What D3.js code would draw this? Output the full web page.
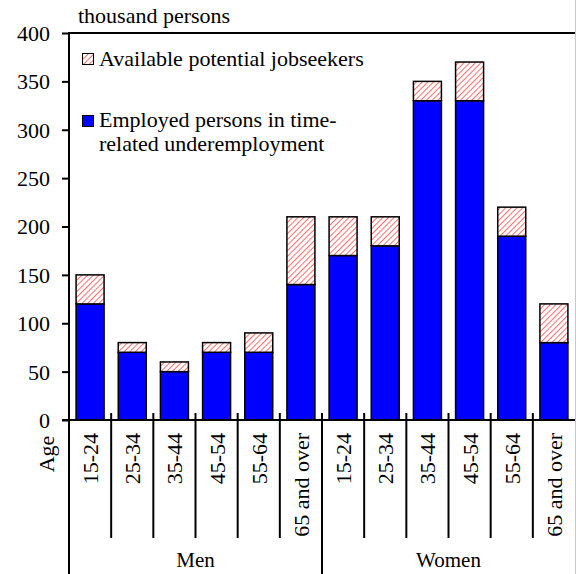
<!DOCTYPE html>
<html><head><meta charset="utf-8">
<script src="https://cdn.jsdelivr.net/npm/d3@7"></script>
<style>body{margin:0;background:#fff}svg{display:block}text{font-family:"Liberation Serif","Times New Roman",serif;fill:#000}</style>
</head><body><svg id="c" width="576" height="574"></svg>
<script>
const groups = ["Men", "Women"];
const ages = ["15-24","25-34","35-44","45-54","55-64","65 and over"];
const employed = [120, 70, 50, 70, 70, 140, 170, 180, 330, 330, 190, 80];
const available = [30, 10, 10, 10, 20, 70, 40, 30, 20, 40, 30, 40];
const yTicks = [0,50,100,150,200,250,300,350,400];
const seriesNames = ["Available potential jobseekers", "Employed persons in time-|related underemployment"];
const unitLabel = "thousand persons";
const axisTitle = "Age";

const cats = [];
groups.forEach(g => ages.forEach(a => cats.push({g, a, key: g + "|" + a})));
const data = cats.map((c, i) => ({...c, emp: employed[i], av: available[i]}));

const svg = d3.select("#c");
const L = 69, R = 575, T = 33, B = 420;
const FS = 22;
const y = d3.scaleLinear().domain([0, 400]).range([B, T]);
const x = d3.scaleBand().domain(cats.map(c => c.key)).range([L, R]).paddingInner(0.336).paddingOuter(0.168);
const step = x.step();

const defs = svg.append("defs");
const pat = defs.append("pattern").attr("id", "hatch").attr("patternUnits", "userSpaceOnUse")
  .attr("width", 4).attr("height", 4).attr("patternTransform", "rotate(45)");
pat.append("rect").attr("width", 4).attr("height", 4).attr("fill", "#fff");
pat.append("line").attr("x1", 0).attr("y1", 0).attr("x2", 0).attr("y2", 4)
  .attr("stroke", "#ff6060").attr("stroke-width", 1.8);

// right border
svg.append("line").attr("x1", 575.5).attr("x2", 575.5).attr("y1", 0).attr("y2", 574).attr("stroke", "#c8c8c8").attr("stroke-width", 1);

// bars
const bars = svg.append("g");
bars.selectAll("rect.emp").data(data).join("rect").attr("class", "emp")
  .attr("x", d => x(d.key)).attr("width", x.bandwidth())
  .attr("y", d => y(d.emp)).attr("height", d => y(0) - y(d.emp))
  .attr("fill", "#0000ff").attr("stroke", "#000").attr("stroke-width", 1.5);
bars.selectAll("rect.av").data(data).join("rect").attr("class", "av")
  .attr("x", d => x(d.key)).attr("width", x.bandwidth())
  .attr("y", d => y(d.emp + d.av)).attr("height", d => y(d.emp) - y(d.emp + d.av))
  .attr("fill", "url(#hatch)").attr("stroke", "#000").attr("stroke-width", 1.5);

// y axis
const yAxis = d3.axisLeft(y).tickValues(yTicks).tickSize(7).tickPadding(12).tickFormat(d3.format("d"));
const ya = svg.append("g").attr("transform", `translate(${L},0)`).call(yAxis);
ya.select(".domain").remove();
ya.selectAll(".tick line").attr("stroke", "#000").attr("stroke-width", 2);
ya.selectAll(".tick text").attr("font-size", FS).attr("font-family", "Liberation Serif").attr("dy", "0.34em");
svg.append("line").attr("x1", L).attr("x2", L).attr("y1", T - 1).attr("y2", 574).attr("stroke", "#000").attr("stroke-width", 2);
svg.append("line").attr("x1", L - 1).attr("x2", R).attr("y1", T).attr("y2", T).attr("stroke", "#000").attr("stroke-width", 2);
svg.append("line").attr("x1", L - 7).attr("x2", R).attr("y1", B).attr("y2", B).attr("stroke", "#000").attr("stroke-width", 2);

// separators
const seps = d3.range(1, 12).map(i => L + i * step);
svg.selectAll("line.sep").data(seps).join("line").attr("class", "sep")
  .attr("x1", d => d).attr("x2", d => d)
  .attr("y1", B - 7).attr("y2", (d, i) => i === 5 ? 574 : 538)
  .attr("stroke", "#000").attr("stroke-width", 2);

// category labels
svg.selectAll("text.cat").data(data).join("text").attr("class", "cat")
  .attr("transform", d => `translate(${x(d.key) + x.bandwidth() / 2 + 8},433) rotate(-90)`)
  .attr("text-anchor", "end").attr("font-size", FS).text(d => d.a);

// group labels
groups.forEach((g, gi) => {
  const x0 = L + gi * 6 * step, x1 = L + (gi + 1) * 6 * step;
  svg.append("text").attr("x", (x0 + x1) / 2).attr("y", 567).attr("text-anchor", "middle").attr("font-size", 21).text(g);
});

svg.append("text").attr("transform", "translate(54,454) rotate(-90)").attr("text-anchor", "middle").attr("font-size", FS).text(axisTitle);
svg.append("text").attr("x", 78).attr("y", 23).attr("font-size", FS).text(unitLabel);

// legend
const lg = svg.append("g");
lg.append("rect").attr("x", 82.5).attr("y", 53.5).attr("width", 11).attr("height", 11).attr("fill", "url(#hatch)").attr("stroke", "#000").attr("stroke-width", 1);
lg.append("text").attr("x", 99).attr("y", 66).attr("font-size", FS).text(seriesNames[0]);
lg.append("rect").attr("x", 82.5).attr("y", 115.5).attr("width", 11).attr("height", 11).attr("fill", "#0000ff").attr("stroke", "#000").attr("stroke-width", 1);
seriesNames[1].split("|").forEach((t, i) => {
  lg.append("text").attr("x", 99).attr("y", 127 + i * 23.5).attr("font-size", FS).text(t);
});
</script></body></html>
